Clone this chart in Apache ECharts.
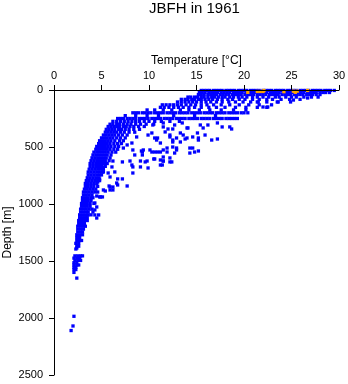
<!DOCTYPE html>
<html>
<head>
<meta charset="utf-8">
<script src="https://cdn.jsdelivr.net/npm/echarts@6/dist/echarts.min.js"></script>
<style>html,body{margin:0;padding:0;background:#fff;}#c{width:348px;height:384px;}</style>
</head>
<body>
<div id="c"></div>
<script>
// Dense observation rows: [depth (m), [temperatures (°C)]]
const blueRows = [
  [4, [15.5,15.8,16.1,16.4,16.8,17.1,17.4,17.7,18.1,18.4,18.7,19.0,19.4,19.7,20.0,20.3,20.7,21.0,21.3,21.6,22.0,22.3,22.6,22.9,23.3,23.6,23.9,24.2,24.6,24.9,25.2,25.5,25.9,26.2,26.5,26.8,27.2,27.5,27.8,28.1,28.5,28.8,29.1,29.5]],
  [22, [15.3,15.6,15.9,16.3,16.6,16.9,17.2,17.6,17.9,18.2,18.5,18.9,19.2,19.5,19.8,20.2,20.5,20.8,21.1,21.5,21.8,22.1,22.4,22.8,23.1,23.4,23.7,24.1,24.4,24.7,25.0,25.4,25.7,26.0,26.3,26.7,27.0,27.3,27.6,28.0,28.3,28.6,29.0]],
  [40, [15.2,15.5,15.8,16.2,16.5,16.8,17.1,17.5,17.8,18.1,18.4,18.8,19.1,19.4,19.7,20.1,20.4,20.7,21.0,21.4,21.7,22.0,22.3,22.7,23.0,23.3,23.6,24.0,24.3,24.6,24.9,25.3,25.6,25.9,26.2,26.6,26.9,27.2,27.6,28.0]],
  [62, [14.1,14.4,14.8,15.1,15.5,15.8,16.2,16.6,16.9,17.3,17.7,18.0,18.5,18.9,19.4,19.8,20.3,20.9,21.4,22.0,22.6,23.3,23.7,24.4,25.0,25.5,26.3,27.1,27.8]],
  [82, [13.4,13.8,14.1,14.5,14.8,15.2,15.5,15.9,16.3,16.7,17.2,17.7,18.3,18.8,19.5,20.1,20.9,21.6,22.4,23.0,23.9,24.8,25.9]],
  [105, [13.0,13.4,13.8,14.2,14.6,15.0,15.5,16.0,16.5,17.1,17.7,18.4,19.1,19.9,20.7,21.5,22.4,23.6,24.9]],
  [130, [11.4,11.8,12.2,12.6,13.0,13.4,13.9,14.4,14.9,15.5,16.1,16.8,17.6,18.5,19.5,20.5,21.6,22.9]],
  [152, [11.2,11.6,12.1,12.6,13.1,13.6,14.2,14.8,15.5,16.3,17.1,18.0,19.1,20.2,21.4,22.4]],
  [175, [9.8,10.6,11.5,12.4,13.3,14.2,15.3,16.4,17.6,18.9,20.2]],
  [200, [8.3,8.6,8.9,9.3,9.6,9.9,10.2,10.6,10.9,11.2,11.5,11.9,12.2,12.5,12.8,13.2,13.5,13.8,14.1,14.5,14.8,15.1,15.4,15.8,16.1,16.4,16.7,17.1,17.4,17.7,18.0,18.4,18.7,19.0,19.3,19.7,20.0,20.4]],
  [225, [7.5,8.6,9.8,11.0,12.6,14.8,17.0]],
  [250, [6.7,7.0,7.3,7.7,8.0,8.3,8.6,9.0,9.3,9.6,9.9,10.3,10.6,10.9,11.2,11.6,11.9,12.2,12.5,12.9,13.2,13.5,13.8,14.2,14.5,14.8,15.1,15.5,15.8,16.1,16.4,16.8,17.1,17.4,17.7,18.1,18.4,18.7,19.0,19.3]],
  [275, [6.2,6.6,7.0,7.4,7.8,8.2,8.6,9.0,9.5,10.0,10.6,11.3,12.2,13.2]],
  [300, [5.9,6.2,6.6,6.9,7.3,7.7,8.1,8.6,9.1,9.7,10.5]],
  [320, [5.7,6.0,6.3,6.6,6.9,7.3,7.6,8.0,8.4,8.9,9.5]],
  [345, [5.5,5.8,6.1,6.4,6.8,7.1,7.5,7.9,8.4,9.0]],
  [370, [5.4,5.7,6.0,6.3,6.6,7.0,7.4,7.9,8.5]],
  [395, [5.2,5.5,5.8,6.1,6.4,6.8,7.2,7.7]],
  [420, [5.0,5.3,5.6,5.9,6.2,6.6,7.0,7.5]],
  [445, [4.8,5.1,5.4,5.7,6.0,6.4,6.9,7.3]],
  [470, [4.7,5.0,5.3,5.6,5.9,6.3,6.7,7.1]],
  [495, [4.5,4.8,5.1,5.4,5.7,6.0,6.4,6.8]],
  [520, [4.4,4.7,5.0,5.3,5.6,5.9,6.3,6.7]],
  [545, [4.2,4.5,4.8,5.1,5.4,5.7,6.1,6.5]],
  [570, [4.1,4.4,4.7,5.0,5.3,5.6,6.0]],
  [595, [4.0,4.3,4.6,4.9,5.2,5.5,5.9]],
  [620, [3.9,4.2,4.5,4.8,5.1,5.4,5.8]],
  [645, [3.8,4.1,4.4,4.7,5.0,5.3,5.6]],
  [670, [3.8,4.1,4.4,4.7,5.0,5.4]],
  [695, [3.7,4.0,4.3,4.6,4.9,5.2]],
  [720, [3.6,3.9,4.2,4.5,4.8,5.1]],
  [745, [3.6,3.9,4.2,4.5,4.8,5.0]],
  [770, [3.5,3.8,4.1,4.4,4.7]],
  [795, [3.4,3.7,4.0,4.3,4.6,4.8]],
  [820, [3.3,3.6,3.9,4.2,4.5]],
  [845, [3.3,3.6,3.9,4.2,4.6]],
  [870, [3.2,3.5,3.8,4.1,4.4]],
  [895, [3.1,3.4,3.7,4.0,4.3]],
  [920, [3.1,3.4,3.7,4.0]],
  [945, [3.0,3.3,3.6,3.9,4.1]],
  [970, [3.0,3.3,3.6,3.9]],
  [995, [2.9,3.2,3.5,3.8,4.2]],
  [1020, [2.9,3.2,3.5,3.8]],
  [1045, [2.8,3.1,3.4,3.7,4.0]],
  [1070, [2.8,3.1,3.4,3.6]],
  [1095, [2.7,3.0,3.3,3.6,3.9]],
  [1120, [2.7,3.0,3.3,3.5]],
  [1145, [2.6,2.9,3.2,3.5]],
  [1170, [2.6,2.9,3.2]],
  [1195, [2.5,2.8,3.1,3.3]],
  [1220, [2.5,2.8,3.1]],
  [1245, [2.5,2.8,3.0]],
  [1270, [2.4,2.7,3.0]],
  [1295, [2.4,2.7]],
  [1320, [2.4,2.7,2.9]],
  [1345, [2.3,2.6]],
  [1370, [2.4,2.6]],
  [1395, [2.3]],
  [1455, [2.2,2.5,2.8,3.0]],
  [1475, [2.1,2.4,2.7]],
  [1495, [2.2,2.5,2.8]],
  [1515, [2.1,2.4]],
  [1535, [2.1,2.4,2.6]],
  [1555, [2.1,2.3]],
  [1575, [2.1,2.3]],
  [1600, [2.1]],
  [1650, [2.4]]
];

// Scattered single observations: [temperature (°C), depth (m)]
const blueScatter = [
  [26.7,70],[25.2,88],[23.5,105],[22.5,149],[22.0,149],[21.4,105],
  [11.5,289],[12.7,307],[12.0,342],[13.3,377],[14.1,333],[15.1,377],[10.9,421],[12.9,421],[13.8,430],[14.6,412],[15.2,421],
  [12.5,500],[14.3,509],[14.8,544],[12.7,553],[11.5,526],[10.6,544],[10.1,526],[9.3,544],[9.6,631],[8.2,658],[9.9,684],[9.1,675],[12.2,631],[11.2,614],
  [10.4,307],[11.5,324],[12.5,342],[13.5,289],[14.0,333],[15.4,307],[15.7,333],[16.2,307],[17.2,289],[17.7,324],[18.5,324],[18.7,342],
  [10.3,377],[10.6,421],[11.2,465],[12.2,395],[13.6,395],[14.0,421],[15.2,439],[15.9,395],[16.6,439],[17.2,430],[12.5,456],[13.3,456],
  [11.9,509],[12.9,526],[14.6,509],[14.3,553],[10.9,544],[11.5,588],[10.6,605],[11.5,623],[12.4,631],[11.4,658],[15.2,535],
  [5.1,938],[5.4,886],[6.2,877],[5.8,842],[6.7,833],[7.7,842],[7.2,780],[5.7,728],[6.1,675],[5.2,719],[8.3,728],[8.3,675],
  [7.2,631],[8.0,623],[9.1,623],[9.8,623],[8.5,570],[9.3,570],[8.3,526],[9.4,526],[6.2,623],[10.5,605],[11.5,623],[11.2,658],
  [12.2,596],[12.9,509],[11.9,544],[11.2,544],[10.3,544],[9.2,535],[10.8,439],[9.9,395],[11.7,368],[12.2,412],[12.5,439],
  [8.7,412],[8.2,465],[7.7,482],[7.3,509],
  [4.8,938],[4.5,930],[5.9,851],[4.6,895],[5.2,877],[5.9,877],[4.9,938],[4.3,991],[4.5,1026],[4.1,1070],[4.3,1096],
  [4.3,1052],[4.7,1096],[4.5,1123],[5.2,675],[6.4,719],[5.9,763],[6.7,780],[6.6,816],[6.2,851],[4.8,780],[4.6,807],
  [2.4,1386],[2.1,1985],[2.0,2070],[1.8,2110]
];

// Highlighted (orange) observations near the surface
const orangePts = [
  [20.4,20],[21.4,13],[21.7,13],[22.0,13],[22.1,4],[24.2,15],[25.2,10],[25.6,10],[25.4,20],[26.7,4]
];

const xTicks = {min: 0, max: 30, interval: 5};
const yTicks = {min: 0, max: 2500, interval: 500};

const blueData = [];
blueRows.forEach(function (r) { r[1].forEach(function (t) { blueData.push([t, r[0]]); }); });
blueScatter.forEach(function (p) { blueData.push(p); });

const font = 'Liberation Sans, Arial, Helvetica, sans-serif';
const plain = function (v) { return String(v); };
const chart = echarts.init(document.getElementById('c'), null, {renderer: 'canvas'});
chart.setOption({
  animation: false,
  backgroundColor: '#ffffff',
  title: {
    text: 'JBFH in 1961', left: 149, top: 1, padding: 0,
    textStyle: {fontFamily: font, fontSize: 15, fontWeight: 'normal', color: '#000'}
  },
  grid: {left: 54, right: 9, top: 90, bottom: 9, containLabel: false, outerBoundsMode: 'none'},
  xAxis: {
    type: 'value', position: 'top', min: xTicks.min, max: xTicks.max, interval: xTicks.interval,
    name: 'Temperature [°C]', nameLocation: 'middle', nameGap: 23, nameMoveOverlap: false,
    nameTextStyle: {fontFamily: font, fontSize: 12, color: '#000'},
    axisLine: {show: true, onZero: false, lineStyle: {color: '#000', width: 1}},
    axisTick: {show: true, inside: false, length: 5, lineStyle: {color: '#000'}},
    axisLabel: {fontFamily: font, fontSize: 11, color: '#000', margin: 9, formatter: plain},
    splitLine: {show: false}, z: 5
  },
  yAxis: {
    type: 'value', inverse: true, min: yTicks.min, max: yTicks.max, interval: yTicks.interval,
    name: 'Depth [m]', nameLocation: 'middle', nameGap: 40, nameMoveOverlap: false,
    nameTextStyle: {fontFamily: font, fontSize: 12, color: '#000'},
    axisLine: {show: true, onZero: false, lineStyle: {color: '#000', width: 1}},
    axisTick: {show: true, inside: false, length: 5, lineStyle: {color: '#000'}},
    axisLabel: {fontFamily: font, fontSize: 11, color: '#000', margin: 11, formatter: plain},
    splitLine: {show: false}, z: 5
  },
  series: [
    {type: 'scatter', data: blueData, symbol: 'rect', symbolSize: 3.3,
     itemStyle: {color: '#0000ff', opacity: 1}, silent: true, z: 2},
    {type: 'scatter', data: orangePts, symbol: 'rect', symbolSize: 3.3,
     itemStyle: {color: '#ffa500', opacity: 1}, silent: true, z: 3}
  ]
});
</script>
</body>
</html>
